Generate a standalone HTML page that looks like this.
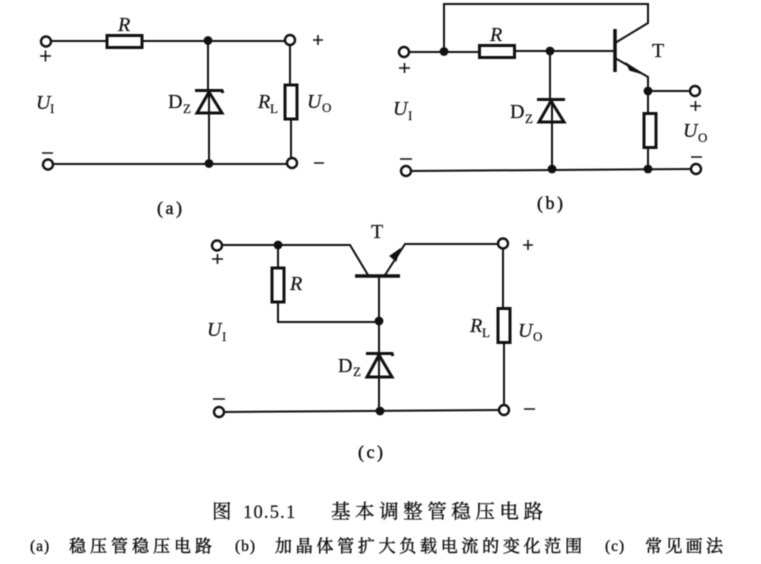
<!DOCTYPE html>
<html>
<head>
<meta charset="utf-8">
<style>
html,body{margin:0;padding:0;background:#fff;width:761px;height:564px;overflow:hidden}
svg{display:block;filter:blur(.4px)}
.w{stroke:#111;stroke-width:2;fill:none}
.t{stroke:#111;stroke-width:1.600;fill:none}
.h{stroke:#111;stroke-width:3;fill:#fff}
.d{stroke:#111;stroke-width:3;fill:none}
.c{stroke:#111;stroke-width:2.400;fill:#fff}
.j{fill:#111}
text{fill:#111;stroke:#111;stroke-width:.2px;font-family:"Liberation Serif","Noto Serif CJK SC",serif;font-size:20px}
.i{font-style:italic}
.s{font-size:13px}
.p{font-size:18px;letter-spacing:2.500px;stroke-width:.4px}
.z{font-family:"Noto Serif CJK SC","Liberation Serif",serif;stroke-width:.35px}
.n{font-size:15.500px;letter-spacing:1px;stroke-width:.35px}
.m{font-size:17px;stroke-width:.45px}
.b{font-size:19.500px}
</style>
</head>
<body>
<svg width="761" height="564" viewBox="0 0 761 564" xmlns="http://www.w3.org/2000/svg">
<!-- (a) -->
<path class="w" d="M50 41H106M143 41H286M208 41V91M209 91V163M53 164H288M290 45V84M291 119V159"/>
<rect class="h" x="107" y="35.500" width="35" height="12"/>
<rect class="h" x="285" y="85" width="12" height="34"/>
<path class="d" d="M195 90.500H222L223 93M209 92L197 113H222Z"/>
<circle class="c" cx="46" cy="41.500" r="5"/><circle class="c" cx="290" cy="40" r="5"/>
<circle class="c" cx="48" cy="164.500" r="5"/><circle class="c" cx="292" cy="163" r="5"/>
<circle class="j" cx="208" cy="40.500" r="4.400"/><circle class="j" cx="209" cy="163.500" r="4.400"/>
<path class="t" d="M40 56H51M45.500 50.500V61.500M42 153H53M313 40H323M318 35V45M314 163H324"/>
<text class="i" x="118" y="31">R</text>
<text class="i" x="36" y="109">U</text><text class="s" x="50" y="113">I</text>
<text x="168" y="108">D</text><text class="s" x="183" y="113">Z</text>
<text class="i" x="258" y="108">R</text><text class="s" x="270" y="113">L</text>
<text class="i" x="307" y="108">U</text><text class="s" x="322" y="112">O</text>
<text class="p" x="157" y="214">(a)</text>

<!-- (b) -->
<path class="w" d="M408 52H479M515 51H615M444 52V4H648V23L615 43M615 58L648 77V169M652 91H691M550 51V100M552 100V169M411 171L692 169"/>
<path d="M627 64L642 73.500 630 70Z" fill="#111" stroke="#111" stroke-width="1.500"/>
<path d="M615 29V72" stroke="#111" stroke-width="3.500"/>
<rect class="h" x="479.500" y="45.500" width="35" height="12"/>
<rect class="h" x="644" y="113.500" width="12" height="34"/>
<path class="d" d="M537 99.500H565M551 101L539 122H564Z"/>
<circle class="c" cx="404" cy="52" r="5"/><circle class="c" cx="695" cy="91" r="5"/>
<circle class="c" cx="406" cy="171" r="5"/><circle class="c" cx="696" cy="169" r="5"/>
<circle class="j" cx="444" cy="51.500" r="4.400"/><circle class="j" cx="550" cy="51" r="4.400"/>
<circle class="j" cx="648" cy="91" r="4.400"/><circle class="j" cx="552" cy="169" r="4.400"/><circle class="j" cx="648" cy="169" r="4.400"/>
<path class="t" d="M399 68H410M404.500 63V73M400 159H412M690 106H701M695.500 101V111M691 157H702"/>
<text class="i" x="490" y="41">R</text>
<text class="i" x="393" y="115">U</text><text class="s" x="408" y="120">I</text>
<text x="510" y="118">D</text><text class="s" x="525" y="123">Z</text>
<text x="652" y="57">T</text>
<text class="i" x="683" y="137">U</text><text class="s" x="698" y="142">O</text>
<text class="p" x="537" y="209">(b)</text>

<!-- (c) -->
<path class="w" d="M221 245H350L368 275M385 275L405 244H499M379 276V353M379 353V411M278 245V268M278 302V322H379M503 247V308M504 343V406M223 412L500 410"/>
<path d="M400 249L396 261 390 256Z" fill="#111" stroke="#111" stroke-width="1"/>
<path d="M355 276H400" stroke="#111" stroke-width="3.500"/>
<rect class="h" x="272" y="268" width="12" height="34"/>
<rect class="h" x="498" y="308.500" width="12" height="34"/>
<path class="d" d="M366 353.500H392L393 356M379 355L367 377H392Z"/>
<circle class="c" cx="217" cy="245.500" r="5"/><circle class="c" cx="503" cy="243.500" r="5"/>
<circle class="c" cx="219" cy="412" r="5"/><circle class="c" cx="504" cy="410" r="5"/>
<circle class="j" cx="278" cy="245" r="4.400"/><circle class="j" cx="379" cy="321" r="4.400"/><circle class="j" cx="380" cy="411" r="4.400"/>
<path class="t" d="M212 259H223M217.500 254V264M213 399H225M523 245H533M528 240V250M524 409H535"/>
<text x="371" y="238">T</text>
<text class="i" x="290" y="290">R</text>
<text class="i" x="207" y="336">U</text><text class="s" x="222" y="341">I</text>
<text x="338" y="372">D</text><text class="s" x="353" y="376">Z</text>
<text class="i" x="470" y="332">R</text><text class="s" x="482" y="337">L</text>
<text class="i" x="518" y="337">U</text><text class="s" x="533" y="341">O</text>
<text class="p" x="358" y="458">(c)</text>

<!-- captions -->
<text class="z b" x="212" y="518">图</text>
<text x="243" y="518" style="font-size:18.500px;letter-spacing:1.200px">10.5.1</text>
<text class="z b" x="331" y="518" textLength="212">基本调整管稳压电路</text>
<text class="n" x="30" y="551">(a)</text>
<text class="z m" x="69" y="552" textLength="143">稳压管稳压电路</text>
<text class="n" x="235" y="551">(b)</text>
<text class="z m" x="275" y="552" textLength="307">加晶体管扩大负载电流的变化范围</text>
<text class="n" x="605" y="551">(c)</text>
<text class="z m" x="645" y="552" textLength="78">常见画法</text>
</svg>
</body>
</html>
